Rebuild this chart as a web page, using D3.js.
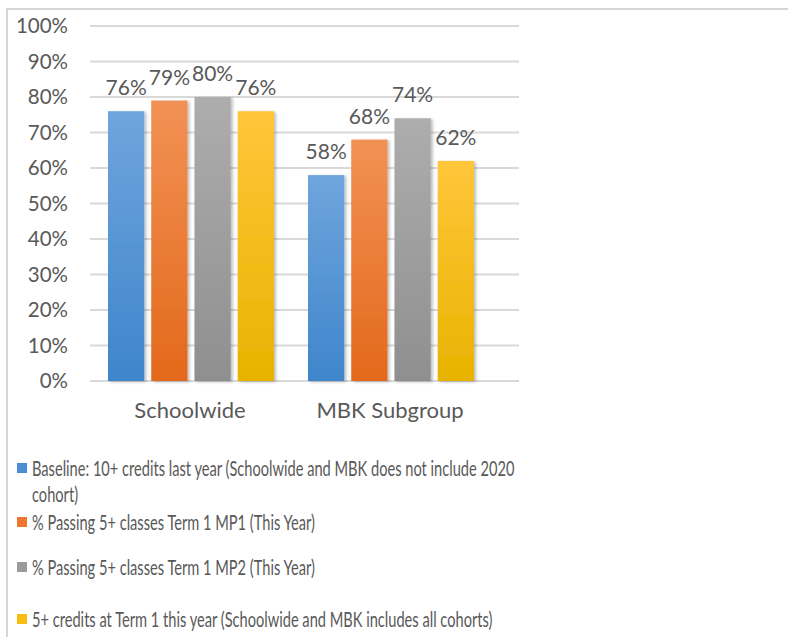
<!DOCTYPE html>
<html>
<head>
<meta charset="utf-8">
<script src="https://cdn.jsdelivr.net/npm/d3@7"></script>
<style>
  body { margin: 0; background: #fff; }
  svg { display: block; }
  text { font-family: Lato, "Open Sans", sans-serif; fill: #595959; }
</style>
</head>
<body>
<svg id="chart" width="788" height="637"></svg>
<script>
// categories and series
const categories = ["Schoolwide", "MBK Subgroup"];
const seriesKeys = ["baseline", "mp1", "mp2", "credits"];
const baseline = [0.76, 0.58];
const mp1 = [0.79, 0.68];
const mp2 = [0.80, 0.74];
const credits = [0.76, 0.62];
const yTicks = [0, 0.1, 0.2, 0.3, 0.4, 0.5, 0.6, 0.7, 0.8, 0.9, 1.0];
const legendLines = [
  ["Baseline: 10+ credits last year (Schoolwide and MBK does not include 2020", "cohort)"],
  ["% Passing 5+ classes Term 1 MP1 (This Year)"],
  ["% Passing 5+ classes Term 1 MP2 (This Year)"],
  ["5+ credits at Term 1 this year (Schoolwide and MBK includes all cohorts)"]
];

const valuesBySeries = { baseline, mp1, mp2, credits };

// colours top -> bottom of the gradient
const colors = {
  baseline: ["#6fa5dd", "#3f85cb"],
  mp1: ["#f29155", "#e3691b"],
  mp2: ["#adadad", "#8f8f8f"],
  credits: ["#ffc63a", "#e8b300"]
};
const legendColors = { baseline: "#4a8fd3", mp1: "#ec7530", mp2: "#9b9b9b", credits: "#f7bd10" };

const svg = d3.select("#chart");

// frame of the chart area (it runs off the screenshot)
svg.append("rect")
  .attr("x", 7).attr("y", 9)
  .attr("width", 900).attr("height", 800)
  .attr("fill", "#fff")
  .attr("stroke", "#c8c8c8")
  .attr("stroke-width", 1.5);

const defs = svg.append("defs");
seriesKeys.forEach(k => {
  const g = defs.append("linearGradient")
    .attr("id", "grad-" + k)
    .attr("x1", 0).attr("y1", 0).attr("x2", 0).attr("y2", 1);
  g.append("stop").attr("offset", "0%").attr("stop-color", colors[k][0]);
  g.append("stop").attr("offset", "100%").attr("stop-color", colors[k][1]);
});
const shadow = defs.append("filter").attr("id", "shadow")
  .attr("x", "-20%").attr("y", "-5%").attr("width", "150%").attr("height", "115%");
shadow.append("feDropShadow")
  .attr("dx", 2).attr("dy", 1).attr("stdDeviation", 1.5)
  .attr("flood-color", "#000").attr("flood-opacity", 0.25);

const y = d3.scaleLinear().domain([0, 1]).range([381, 26]);
const x0 = d3.scaleBand().domain(categories).range([91, 491]);
const x1 = d3.scaleBand().domain(seriesKeys).range([17, 183]).paddingInner(0.16);

// gridlines
svg.append("g").selectAll("line")
  .data(yTicks)
  .enter().append("line")
  .attr("x1", 90).attr("x2", 519)
  .attr("y1", d => y(d)).attr("y2", d => y(d))
  .attr("stroke", "#d9d9d9")
  .attr("stroke-width", 1.8);

// y tick labels
svg.append("g").selectAll("text")
  .data(yTicks)
  .enter().append("text")
  .attr("x", 68)
  .attr("y", d => y(d))
  .attr("dy", "0.36em")
  .attr("text-anchor", "end")
  .style("font-size", "20.5px")
  .text(d => d3.format(".0%")(d));

// bars
const groups = svg.append("g").selectAll("g")
  .data(categories)
  .enter().append("g")
  .attr("transform", d => `translate(${x0(d)},0)`);

groups.selectAll("rect")
  .data((c, i) => seriesKeys.map(k => ({ key: k, value: valuesBySeries[k][i] })))
  .enter().append("rect")
  .attr("x", d => x1(d.key))
  .attr("y", d => y(d.value))
  .attr("width", x1.bandwidth())
  .attr("height", d => y(0) - y(d.value))
  .attr("fill", d => `url(#grad-${d.key})`)
  .attr("filter", "url(#shadow)");

groups.selectAll("text")
  .data((c, i) => seriesKeys.map(k => ({ key: k, value: valuesBySeries[k][i] })))
  .enter().append("text")
  .attr("x", d => x1(d.key) + x1.bandwidth() / 2)
  .attr("y", d => y(d.value) - 16)
  .attr("text-anchor", "middle")
  .style("font-size", "21px")
  .text(d => d3.format(".0%")(d.value));

// category labels
svg.append("g").selectAll("text")
  .data(categories)
  .enter().append("text")
  .attr("x", d => x0(d) + x0.bandwidth() / 2 - 1)
  .attr("y", 418)
  .attr("text-anchor", "middle")
  .style("font-size", "22px")
  .text(d => d);

// legend (text is narrow in the original, so squeeze it sideways)
const legendY = [468, 522, 567, 619];
const squeeze = 0.665;
const legend = svg.append("g").selectAll("g")
  .data(seriesKeys)
  .enter().append("g")
  .attr("transform", (d, i) => `translate(0,${legendY[i]})`);

legend.append("rect")
  .attr("x", 17).attr("y", -5)
  .attr("width", 10).attr("height", 10)
  .attr("fill", d => legendColors[d]);

legend.each(function (d, i) {
  const t = d3.select(this);
  legendLines[i].forEach((line, j) => {
    t.append("text")
      .attr("transform", `translate(32,${j * 26}) scale(${squeeze},1)`)
      .attr("dy", "0.36em")
      .style("font-size", "22px")
      .text(line);
  });
});
</script>
</body>
</html>
